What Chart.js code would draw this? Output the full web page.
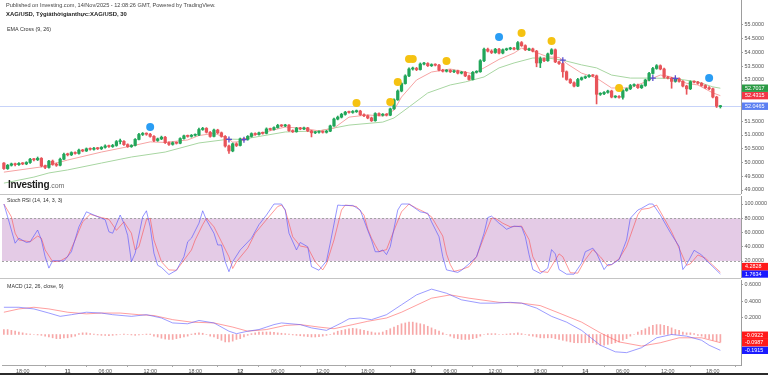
<!DOCTYPE html>
<html>
<head>
<meta charset="utf-8">
<script src="https://cdn.jsdelivr.net/npm/chart.js@4.4.1/dist/chart.umd.min.js"></script>
<style>
  html, body { margin: 0; padding: 0; background: #fff; }
  #wrap { position: relative; width: 768px; height: 375px; overflow: hidden; font-family: "Liberation Sans", Arial, sans-serif; }
  .pane { position: absolute; left: 0; width: 768px; }
  .sep { position: absolute; left: 0; width: 741px; height: 1px; background: #c4c4c4; }
  .txt { position: absolute; white-space: nowrap; color: #333; line-height: 1; }
  #logo { position: absolute; left: 8px; top: 179px; font-weight: bold; font-size: 10px; letter-spacing: -0.3px; color: #1c1c1c; }
  #logo span { font-weight: normal; font-size: 7px; color: #6a6a6a; letter-spacing: 0; }
  #bottomBar { position: absolute; left: 0; top: 373px; width: 768px; height: 2px; background: #2b2b2b; }
</style>
</head>
<body>
<div id="wrap">
  <div class="pane" style="top:0;height:194px"><canvas id="mainChart"></canvas></div>
  <div class="sep" style="top:194px"></div>
  <div class="pane" style="top:196px;height:82px"><canvas id="stochChart"></canvas></div>
  <div class="sep" style="top:278px"></div>
  <div class="pane" style="top:280px;height:95px"><canvas id="macdChart"></canvas></div>

  <div class="txt" style="left:6px;top:3px;font-size:5.6px;color:#444">Published on Investing.com, 14/Nov/2025 - 12:08:26 GMT, Powered by TradingView.</div>
  <div class="txt" style="left:6px;top:12px;font-size:5.9px;font-weight:bold;color:#222">XAG/USD, Tỷgiáthờigianthực:XAG/USD, 30</div>
  <div class="txt" style="left:7px;top:27px;font-size:5.4px">EMA Cross (9, 26)</div>
  <div class="txt" style="left:7px;top:198px;font-size:5.3px">Stoch RSI (14, 14, 3, 3)</div>
  <div class="txt" style="left:7px;top:284px;font-size:5.3px">MACD (12, 26, close, 9)</div>
  <div id="logo">Investing<span>.com</span></div>
  <div id="bottomBar"></div>
</div>

<script>
// 30 minute bars, GMT+7, 10 Nov 15:30 -> 14 Nov 19:00 (+ a few empty future slots)
const opens = [
  49.98,49.78,49.90,49.95,49.92,49.97,49.95,50.00,50.12,50.10,
  50.15,49.88,49.82,50.05,49.93,49.90,50.12,50.30,50.28,50.36,
  50.33,50.45,50.42,50.50,50.48,50.52,50.50,50.55,50.60,50.58,
  50.62,50.76,50.77,50.65,50.58,50.62,50.84,51.02,51.05,51.03,
  50.95,50.80,50.86,50.92,50.72,50.66,50.72,50.70,50.87,50.97,
  50.95,50.99,51.00,51.20,51.24,51.10,50.95,51.18,51.08,50.95,
  50.60,50.42,50.68,50.62,50.86,50.84,50.95,51.05,51.02,51.08,
  51.06,51.22,51.20,51.27,51.35,51.33,51.36,51.16,51.12,51.25,
  51.22,51.26,51.15,51.08,51.10,51.12,51.10,51.14,51.33,51.58,
  51.65,51.75,51.83,51.82,51.85,51.87,51.74,51.70,51.62,51.52,
  51.78,51.72,51.75,51.72,51.95,52.28,52.60,52.87,53.15,53.40,
  53.42,53.38,53.58,53.60,53.52,53.56,53.54,53.36,53.32,53.35,
  53.30,53.33,53.25,53.28,53.15,53.02,53.28,53.30,53.70,54.12,
  54.05,54.00,54.12,53.98,54.10,54.13,54.16,54.12,54.36,54.25,
  54.10,54.13,54.05,53.62,53.78,53.70,53.95,54.10,53.66,53.60,
  53.30,53.02,52.90,52.78,53.02,53.08,53.12,53.17,53.15,52.48,
  52.50,52.55,52.60,52.38,52.40,52.37,52.62,52.68,52.80,52.82,
  52.72,52.80,53.00,53.24,53.42,53.52,53.40,53.10,53.07,52.95,
  53.05,52.95,52.78,52.68,52.94,52.92,52.88,52.80,52.72,52.68,
  52.38,52.03
];
const highs = [
  50.00,49.93,49.98,49.98,50.00,50.00,50.03,50.15,50.15,50.20,
  50.18,49.91,50.08,50.09,49.98,50.16,50.34,50.34,50.39,50.39,
  50.49,50.48,50.53,50.53,50.55,50.55,50.58,50.64,50.63,50.66,
  50.80,50.85,50.80,50.68,50.65,50.87,51.06,51.09,51.08,51.06,
  50.98,50.89,50.96,50.95,50.75,50.75,50.75,50.90,51.00,51.00,
  51.02,51.04,51.25,51.28,51.27,51.13,51.22,51.21,51.11,50.98,
  50.63,50.71,50.72,50.89,50.89,50.98,51.08,51.08,51.11,51.11,
  51.26,51.25,51.30,51.39,51.38,51.39,51.38,51.19,51.28,51.28,
  51.29,51.28,51.17,51.13,51.15,51.15,51.17,51.36,51.62,51.69,
  51.79,51.86,51.87,51.89,51.91,51.90,51.77,51.73,51.65,51.81,
  51.81,51.78,51.78,51.98,52.32,52.64,52.90,53.19,53.44,53.47,
  53.46,53.62,53.64,53.63,53.59,53.59,53.57,53.39,53.38,53.38,
  53.36,53.36,53.31,53.31,53.18,53.31,53.34,53.74,54.16,54.16,
  54.10,54.15,54.15,54.13,54.16,54.19,54.19,54.40,54.40,54.28,
  54.16,54.16,54.08,53.84,53.81,53.98,54.14,54.13,53.69,53.63,
  53.33,53.05,52.93,53.06,53.11,53.15,53.20,53.20,53.18,52.54,
  52.58,52.63,52.63,52.43,52.43,52.65,52.71,52.84,52.86,52.85,
  52.83,53.03,53.28,53.46,53.56,53.55,53.43,53.13,53.10,53.08,
  53.08,52.98,52.81,52.97,52.97,52.95,52.91,52.83,52.76,52.71,
  52.41,52.08
];
const lows = [
  49.75,49.75,49.87,49.88,49.89,49.92,49.92,49.97,50.06,50.07,
  49.84,49.78,49.79,49.90,49.86,49.88,50.10,50.24,50.25,50.30,
  50.30,50.39,50.40,50.45,50.45,50.47,50.47,50.52,50.55,50.55,
  50.59,50.68,50.62,50.55,50.55,50.60,50.82,50.98,50.99,50.92,
  50.76,50.77,50.83,50.69,50.62,50.63,50.67,50.68,50.85,50.92,
  50.92,50.96,50.98,51.17,51.07,50.92,50.93,51.05,50.92,50.56,
  50.33,50.39,50.58,50.60,50.80,50.81,50.92,50.99,50.99,51.03,
  51.04,51.17,51.18,51.25,51.30,51.30,51.13,51.09,51.10,51.19,
  51.19,51.12,50.93,51.05,51.07,51.07,51.07,51.12,51.31,51.55,
  51.62,51.72,51.79,51.79,51.82,51.71,51.67,51.59,51.49,51.50,
  51.69,51.69,51.69,51.70,51.93,52.26,52.57,52.85,53.12,53.36,
  53.34,53.36,53.55,53.49,53.49,53.51,53.33,53.29,53.29,53.27,
  53.27,53.22,53.22,53.12,52.99,53.00,53.25,53.28,53.67,54.02,
  53.96,53.97,53.95,53.95,54.07,54.10,54.09,54.10,54.22,54.07,
  54.07,54.02,53.48,53.45,53.67,53.68,53.93,53.63,53.57,53.10,
  52.99,52.87,52.75,52.76,52.99,53.05,53.09,53.12,52.13,52.44,
  52.47,52.52,52.35,52.35,52.34,52.30,52.59,52.65,52.77,52.69,
  52.69,52.77,52.97,53.21,53.39,53.37,53.07,53.04,52.70,52.92,
  52.92,52.75,52.48,52.65,52.89,52.85,52.77,52.69,52.65,52.35,
  52.00,51.98
];
const closes = [
  49.78,49.90,49.95,49.92,49.97,49.95,50.00,50.12,50.10,50.15,
  49.88,49.82,50.05,49.93,49.90,50.12,50.30,50.28,50.36,50.33,
  50.45,50.42,50.50,50.48,50.52,50.50,50.55,50.60,50.58,50.62,
  50.76,50.77,50.65,50.58,50.62,50.84,51.02,51.05,51.03,50.95,
  50.80,50.86,50.92,50.72,50.66,50.72,50.70,50.87,50.97,50.95,
  50.99,51.00,51.20,51.24,51.10,50.95,51.18,51.08,50.95,50.60,
  50.42,50.68,50.62,50.86,50.84,50.95,51.05,51.02,51.08,51.06,
  51.22,51.20,51.27,51.35,51.33,51.36,51.16,51.12,51.25,51.22,
  51.26,51.15,51.08,51.10,51.12,51.10,51.14,51.33,51.58,51.65,
  51.75,51.83,51.82,51.85,51.87,51.74,51.70,51.62,51.52,51.78,
  51.72,51.75,51.72,51.95,52.28,52.60,52.87,53.15,53.40,53.42,
  53.38,53.58,53.60,53.52,53.56,53.54,53.36,53.32,53.35,53.30,
  53.33,53.25,53.28,53.15,53.02,53.28,53.30,53.70,54.12,54.05,
  54.00,54.12,53.98,54.10,54.13,54.16,54.12,54.36,54.25,54.10,
  54.13,54.05,53.62,53.78,53.70,53.95,54.10,53.66,53.60,53.30,
  53.02,52.90,52.78,53.02,53.08,53.12,53.17,53.15,52.48,52.50,
  52.55,52.60,52.38,52.40,52.37,52.62,52.68,52.80,52.82,52.72,
  52.80,53.00,53.24,53.42,53.52,53.40,53.10,53.07,52.95,53.05,
  52.95,52.78,52.68,52.94,52.92,52.88,52.80,52.72,52.68,52.38,
  52.05,52.0465
];

// EMA lines as [bar, value]
const ema9Points = [
  [0,49.65],[10,49.84],[17,50.09],[26,50.38],[34,50.6],[39,50.75],[43,50.73],[49,50.82],[52,50.98],
  [56,51.06],[59,50.92],[60,50.84],[61,50.74],[63,50.76],[64,50.83],[66,50.97],[70,51.12],[75,51.29],
  [80,51.24],[84,51.15],[88,51.25],[92,51.65],[97,51.73],[101,51.69],[104,51.9],[106,52.38],[110,53.0],
  [114,53.29],[119,53.4],[123,53.29],[125,53.22],[128,53.44],[132,53.75],[136,53.98],[138,54.16],
  [141,54.05],[145,53.84],[148,53.82],[149,53.72],[150,53.6],[154,53.25],[158,53.07],[162,52.71],
  [167,52.71],[171,52.93],[173,53.07],[175,53.18],[177,53.14],[179,53.06],[182,52.88],[185,52.82],
  [189,52.53],[191,52.4315]
];
const ema26Points = [
  [0,49.25],[8,49.47],[12,49.62],[17,49.73],[26,49.98],[34,50.2],[43,50.38],[52,50.71],[60,50.85],
  [64,50.84],[66,50.9],[75,51.11],[84,51.15],[92,51.36],[101,51.47],[104,51.62],[108,52.02],[113,52.53],
  [119,52.82],[123,52.93],[128,53.11],[132,53.44],[136,53.62],[141,53.8],[145,53.8],[149,53.72],
  [154,53.55],[158,53.44],[162,53.18],[167,53.07],[173,53.07],[176,53.06],[179,53.05],[185,52.93],
  [189,52.75],[191,52.7017]
];
const crossPoints = [[60,50.84],[64,50.83],[149,53.72],[173,53.07],[179,53.06]];
const eventPoints = [
  [39,51.29,"b"],[94,52.16,"y"],[103,52.2,"y"],[105,52.93,"y"],[108,53.76,"y"],[109,53.76,"y"],
  [118,53.69,"y"],[132,54.56,"b"],[138,54.71,"y"],[146,54.42,"y"],[164,52.71,"y"],[188,53.07,"b"]
];

const stochKPoints = [
  [0,100],[1,82],[3,45],[4,52],[6,46],[7,47],[9,63.5],[10,49.5],[11,26],[12,10],[13,20.5],[16,20],[18,33],
  [20,68],[22,89],[24,84.5],[26,80],[27,78],[28,61],[29,59],[31,84.5],[32,73],[33,56],[34,19],[35,31],
  [37,82],[38,90.5],[39,68],[40,31],[41,14],[42,11],[44,1],[46,7],[48,26],[49,47],[50,52],[52,73],
  [53,90.5],[54,77.5],[56,59],[57,42.5],[58,42.5],[59,19],[60,5],[61,19],[63,35.5],[66,52],[68,71],
  [70,84.5],[72,100],[74,100],[75,91.5],[76,59],[78,35.5],[79,46],[80,43],[81,40],[82,12],[84,7],
  [86,20],[87,45],[89,98.5],[90,98],[93,98],[95,91.5],[97,63],[98,49.5],[99,33],[100,33],[101,35.5],
  [102,29],[103,40],[105,91.5],[106,100],[108,100],[111,89],[113,87],[114,75],[116,54],[117,26],
  [118,7.5],[121,4],[122,7],[124,16],[126,26],[128,59],[129,81],[130,83],[132,73],[133,69],[134,64.5],
  [136,69],[138,68],[139,54],[140,29],[141,8],[143,2.5],[145,10],[146,36],[147,30],[148,8],[150,1.5],
  [152,1.5],[154,17],[155,33],[157,38],[158,31],[160,8],[161,15],[162,15],[164,22],[166,49.5],[167,80],
  [169,91.5],[170,94],[172,100],[173,100],[175,84.5],[177,66],[178,57],[180,40.5],[181,8],[182,15],
  [184,35],[186,28.5],[187,22],[189,12],[191,1.7634]
];
const stochDPoints = [
  [0,100],[2,82],[3,59],[4,49.5],[7,47],[9,55],[10,52],[11,35.5],[13,19],[15,20],[17,26],[19,49.5],
  [21,75],[23,85.5],[26,81],[28,78.5],[30,63],[32,75],[34,59],[35,35.5],[36,40],[38,78],[39,80],
  [40,49.5],[42,19],[44,7.5],[46,7],[47,14],[50,35.5],[51,49.5],[53,71],[54,80],[56,68],[58,47],
  [60,26],[61,9.5],[62,19],[65,38],[67,59],[70,78],[73,96.5],[74,98.5],[75,91.5],[77,54],[79,41],
  [81,39],[83,19],[85,7.5],[86,16],[88,49.5],[90,91.5],[91,98.5],[94,96.5],[96,84.5],[97,65],[98,52],
  [99,42],[100,33],[102,36],[104,63],[106,89],[108,100],[110,94],[112,89],[114,82],[117,55],[118,30],
  [119,15],[120,5.5],[122,8],[124,12],[126,26],[128,54],[130,80],[131,80],[133,73],[135,68],[138,69],
  [140,50],[141,26],[143,5.5],[145,4],[148,30],[149,26],[151,3.5],[153,3],[155,22],[157,36],[159,26],
  [161,13],[162,15],[164,23],[166,40.5],[169,85],[170,92.5],[172,94],[174,98.5],[176,80],[178,61],
  [180,38],[182,14],[183,16],[185,28.5],[187,24],[189,14],[191,4.2828]
];

const macdPoints = [
  [0,0.33],[4,0.33],[8,0.31],[12,0.26],[15,0.22],[18,0.24],[22,0.27],[26,0.26],[29,0.24],[34,0.22],
  [38,0.24],[42,0.2],[45,0.14],[49,0.13],[52,0.17],[56,0.14],[60,0.04],[62,0.01],[65,0.04],[68,0.06],
  [72,0.12],[74,0.14],[79,0.12],[82,0.08],[86,0.05],[90,0.14],[92,0.19],[95,0.2],[98,0.18],[102,0.24],
  [106,0.36],[110,0.48],[114,0.55],[118,0.5],[122,0.42],[127,0.38],[131,0.38],[135,0.39],[138,0.38],
  [142,0.32],[146,0.22],[150,0.15],[154,0.05],[159,-0.13],[163,-0.21],[166,-0.22],[170,-0.16],
  [174,-0.04],[178,0.0],[182,-0.02],[186,-0.07],[188,-0.13],[191,-0.1915]
];
const signalPoints = [
  [0,0.27],[4,0.31],[8,0.33],[12,0.31],[17,0.27],[22,0.25],[26,0.26],[31,0.26],[36,0.24],[40,0.23],
  [45,0.18],[50,0.15],[56,0.14],[61,0.09],[65,0.04],[70,0.06],[75,0.11],[79,0.12],[84,0.09],[88,0.07],
  [93,0.12],[97,0.16],[102,0.2],[106,0.27],[114,0.44],[119,0.48],[124,0.44],[132,0.39],[138,0.38],
  [143,0.35],[148,0.26],[154,0.15],[159,0.02],[164,-0.09],[170,-0.14],[175,-0.10],[180,-0.04],
  [186,-0.04],[191,-0.0987]
];
const histogram = [
  0.06,0.06,0.05,0.04,0.03,0.02,0.01,0.005,0,-0.005,
  -0.01,-0.02,-0.03,-0.04,-0.05,-0.05,-0.04,-0.04,-0.03,-0.02,
  0.01,0.02,0.02,0.01,0.005,-0.005,-0.01,-0.01,-0.015,-0.01,
  -0.005,0,0.005,0,-0.005,-0.01,-0.005,0,0.005,0.005,
  -0.02,-0.03,-0.045,-0.055,-0.06,-0.06,-0.05,-0.04,-0.03,-0.02,
  0.005,0.015,0.02,0.015,0,-0.02,-0.03,-0.05,-0.07,-0.09,
  -0.09,-0.08,-0.06,-0.05,-0.03,-0.01,0.01,0.02,0.03,0.03,
  0.03,0.03,0.025,0.02,0.015,0.01,0.005,-0.005,-0.01,-0.015,
  -0.02,-0.025,-0.03,-0.03,-0.025,-0.02,-0.01,0,0.02,0.04,
  0.05,0.06,0.07,0.075,0.07,0.06,0.05,0.04,0.03,0.02,
  0.02,0.03,0.05,0.07,0.09,0.11,0.13,0.14,0.15,0.15,
  0.14,0.13,0.12,0.1,0.08,0.06,0.04,0.02,0,-0.02,
  -0.04,-0.05,-0.06,-0.06,-0.06,-0.05,-0.04,-0.02,0,0.01,
  0.01,0.01,0,0,0.005,0.01,0.01,0.02,0.01,0,
  -0.01,-0.02,-0.03,-0.04,-0.04,-0.04,-0.04,-0.05,-0.06,-0.07,
  -0.08,-0.09,-0.1,-0.1,-0.1,-0.1,-0.1,-0.1,-0.12,-0.13,
  -0.13,-0.12,-0.11,-0.1,-0.09,-0.07,-0.05,-0.02,0,0.03,
  0.05,0.07,0.09,0.11,0.12,0.12,0.11,0.1,0.08,0.06,
  0.05,0.03,0.02,0.02,0.01,-0.01,-0.02,-0.04,-0.05,-0.07,
  -0.08,-0.0922
];

const priceTicks = [49.0, 49.5, 50.0, 50.5, 51.0, 51.5, 53.0, 53.5, 54.0, 54.5, 55.0];
const stochTicks = [20, 40, 60, 80, 100];
const macdTicks = [0.2, 0.4, 0.6];
const STOCH_UPPER = 80;
const STOCH_LOWER = 20;

const lastClose = 52.0465;
const lastEma9 = 52.4315;
const lastEma26 = 52.7017;

const UP = "#22a65a";
const DOWN = "#e8545a";
const FONT = "'Liberation Sans', Arial, sans-serif";
Chart.defaults.font.family = FONT;

function buildTimeLabels() {
  const out = [];
  for (const d of [10, 11, 12, 13, 14]) {
    for (let m = 0; m < 24 * 60; m += 30) {
      if (d === 10 && m < 15 * 60 + 30) continue;
      if (d === 14 && m > 21 * 60 + 30) break;
      const hm = `${String(Math.floor(m / 60)).padStart(2, "0")}:${m % 60 ? "30" : "00"}`;
      if (hm === "05:00" || hm === "05:30") continue; // daily break
      out.push(`${d} ${hm}`);
    }
  }
  return out;
}
const timeLabels = buildTimeLabels();

function sparse(points) {
  const arr = new Array(timeLabels.length).fill(null);
  points.forEach(([i, v]) => { arr[i] = v; });
  return arr;
}

const candleColors = closes.map((c, i) => (c >= opens[i] ? UP : DOWN));

const axisBoxes = {
  id: "axisBoxes",
  afterDraw(chart, args, opts) {
    const items = opts.items || [];
    if (!items.length) return;
    const y = chart.scales.y;
    const ctx = chart.ctx;
    const h = 7.4;
    const boxes = items.map((it) => ({ ...it, py: y.getPixelForValue(it.value) }))
      .sort((a, b) => b.py - a.py);
    for (let i = 1; i < boxes.length; i++) {
      if (boxes[i - 1].py - boxes[i].py < h) boxes[i].py = boxes[i - 1].py - h;
    }
    ctx.save();
    ctx.font = `5.4px ${FONT}`;
    ctx.textBaseline = "middle";
    boxes.forEach((b) => {
      ctx.fillStyle = b.bg;
      ctx.fillRect(y.left + 1, b.py - h / 2, y.right - y.left - 1, h);
      ctx.fillStyle = "#fff";
      ctx.fillText(b.value.toFixed(4), y.left + 4, b.py + 0.3);
    });
    ctx.restore();
  },
};

const priceLine = {
  id: "priceLine",
  beforeDatasetsDraw(chart, args, opts) {
    if (opts.value == null) return;
    const { ctx, chartArea, scales } = chart;
    const py = Math.round(scales.y.getPixelForValue(opts.value)) + 0.5;
    ctx.save();
    ctx.strokeStyle = opts.color;
    ctx.lineWidth = 1;
    ctx.beginPath();
    ctx.moveTo(0, py);
    ctx.lineTo(chartArea.right, py);
    ctx.stroke();
    ctx.restore();
  },
};

const stochBand = {
  id: "stochBand",
  beforeDatasetsDraw(chart) {
    const { ctx, chartArea, scales } = chart;
    const top = scales.y.getPixelForValue(STOCH_UPPER);
    const bottom = scales.y.getPixelForValue(STOCH_LOWER);
    ctx.save();
    ctx.fillStyle = "#e4cbe6";
    ctx.fillRect(chartArea.left, top, chartArea.width, bottom - top);
    ctx.strokeStyle = "#a3a3a3";
    ctx.lineWidth = 1;
    ctx.setLineDash([2, 2]);
    [top, bottom].forEach((py) => {
      ctx.beginPath();
      ctx.moveTo(chartArea.left, Math.round(py) + 0.5);
      ctx.lineTo(chartArea.right, Math.round(py) + 0.5);
      ctx.stroke();
    });
    ctx.restore();
  },
};

function rightAxis(min, max, tickValues) {
  return {
    position: "right",
    min,
    max,
    afterFit(scale) {
      scale.width = 27;
      scale.paddingTop = 0;
      scale.paddingBottom = 0;
    },
    afterBuildTicks(scale) { scale.ticks = tickValues.map((v) => ({ value: v })); },
    border: { display: true, color: "#9d9d9d" },
    grid: { display: true, drawOnChartArea: false, drawTicks: true, tickLength: 2, color: "#9d9d9d" },
    ticks: {
      padding: 1.5,
      color: "#555",
      font: { size: 5.4 },
      callback: (v) => Number(v).toFixed(4),
    },
  };
}

const hiddenX = () => ({ display: false, offset: true, grid: { display: false } });
const baseOptions = {
  responsive: true,
  maintainAspectRatio: false,
  animation: false,
  layout: { autoPadding: false, padding: { left: 2, right: 0, top: 0, bottom: 0 } },
};

function lineSet(points, color, order) {
  return {
    type: "line",
    data: sparse(points),
    borderColor: color,
    borderWidth: 1,
    pointRadius: 0,
    spanGaps: true,
    tension: 0,
    order,
  };
}

new Chart(document.getElementById("mainChart"), {
  type: "bar",
  data: {
    labels: timeLabels,
    datasets: [
      {
        type: "line",
        data: sparse(eventPoints.map(([i, v]) => [i, v])),
        showLine: false,
        pointRadius: 4,
        pointBorderWidth: 0,
        pointBackgroundColor: sparse(eventPoints.map(([i, , k]) => [i, k === "y" ? "#f5c211" : "#2a9df4"])),
        order: 0,
      },
      {
        type: "line",
        data: sparse(crossPoints),
        showLine: false,
        pointStyle: "cross",
        pointRadius: 3,
        pointBorderWidth: 1.3,
        pointBorderColor: "#5a4fcf",
        order: 0,
      },
      {
        data: opens.map((o, i) => [o, closes[i]]),
        backgroundColor: candleColors,
        barThickness: 2.6,
        minBarLength: 1,
        grouped: false,
        order: 1,
      },
      {
        data: lows.map((l, i) => [l, highs[i]]),
        backgroundColor: candleColors,
        barThickness: 1,
        grouped: false,
        order: 2,
      },
      lineSet(ema9Points, "#f6a3a3", 3),
      lineSet(ema26Points, "#a8d6a2", 4),
    ],
  },
  options: {
    ...baseOptions,
    plugins: {
      legend: { display: false },
      tooltip: { enabled: false },
      priceLine: { value: lastClose, color: "rgba(70, 110, 235, 0.3)" },
      axisBoxes: {
        items: [
          { value: lastEma26, bg: "#2b9a45" },
          { value: lastEma9, bg: "#f23645" },
          { value: lastClose, bg: "#5b7ff2" },
        ],
      },
    },
    scales: { x: hiddenX(), y: rightAxis(48.855, 55.909, priceTicks) },
  },
  plugins: [priceLine, axisBoxes],
});

new Chart(document.getElementById("stochChart"), {
  type: "line",
  data: {
    labels: timeLabels,
    datasets: [
      lineSet(stochKPoints, "rgba(80, 80, 255, 0.6)", 1),
      lineSet(stochDPoints, "rgba(255, 70, 70, 0.55)", 2),
    ],
  },
  options: {
    ...baseOptions,
    plugins: {
      legend: { display: false },
      tooltip: { enabled: false },
      axisBoxes: {
        items: [
          { value: 4.2828, bg: "#ff1a1a" },
          { value: 1.7634, bg: "#1a1aff" },
        ],
      },
    },
    scales: { x: hiddenX(), y: rightAxis(-3.86, 111.23, stochTicks) },
  },
  plugins: [stochBand, axisBoxes],
});

new Chart(document.getElementById("macdChart"), {
  type: "bar",
  data: {
    labels: timeLabels,
    datasets: [
      lineSet(macdPoints, "rgba(90, 90, 255, 0.6)", 1),
      lineSet(signalPoints, "rgba(255, 80, 80, 0.55)", 2),
      {
        data: histogram,
        backgroundColor: "rgba(240, 80, 80, 0.5)",
        barThickness: 1,
        grouped: false,
        order: 3,
      },
    ],
  },
  options: {
    ...baseOptions,
    plugins: {
      legend: { display: false },
      tooltip: { enabled: false },
      axisBoxes: {
        items: [
          { value: -0.0922, bg: "#ff1a1a" },
          { value: -0.0987, bg: "#ff1a1a" },
          { value: -0.1915, bg: "#1a1aff" },
        ],
      },
    },
    scales: {
      x: {
        offset: true,
        afterFit(scale) {
          scale.height = 10;
          scale.paddingLeft = 0;
          scale.paddingRight = 0;
        },
        border: { display: true, color: "#a8a8a8" },
        grid: { display: true, drawOnChartArea: false, drawTicks: true, tickLength: 2, color: "#a8a8a8" },
        ticks: {
          autoSkip: false,
          maxRotation: 0,
          minRotation: 0,
          padding: 1,
          color: "#555",
          font: (ctx) => ({ size: 5.4, weight: ctx.tick && /^\d+$/.test(ctx.tick.label) ? "bold" : "normal" }),
          callback(value, index) {
            const [d, hm] = timeLabels[index].split(" ");
            if (hm === "00:00") return d;
            if (hm === "06:00" || hm === "12:00" || hm === "18:00") return hm;
            return null;
          },
        },
      },
      y: rightAxis(-0.3697, 0.6606, macdTicks),
    },
  },
  plugins: [axisBoxes],
});
</script>
</body>
</html>
